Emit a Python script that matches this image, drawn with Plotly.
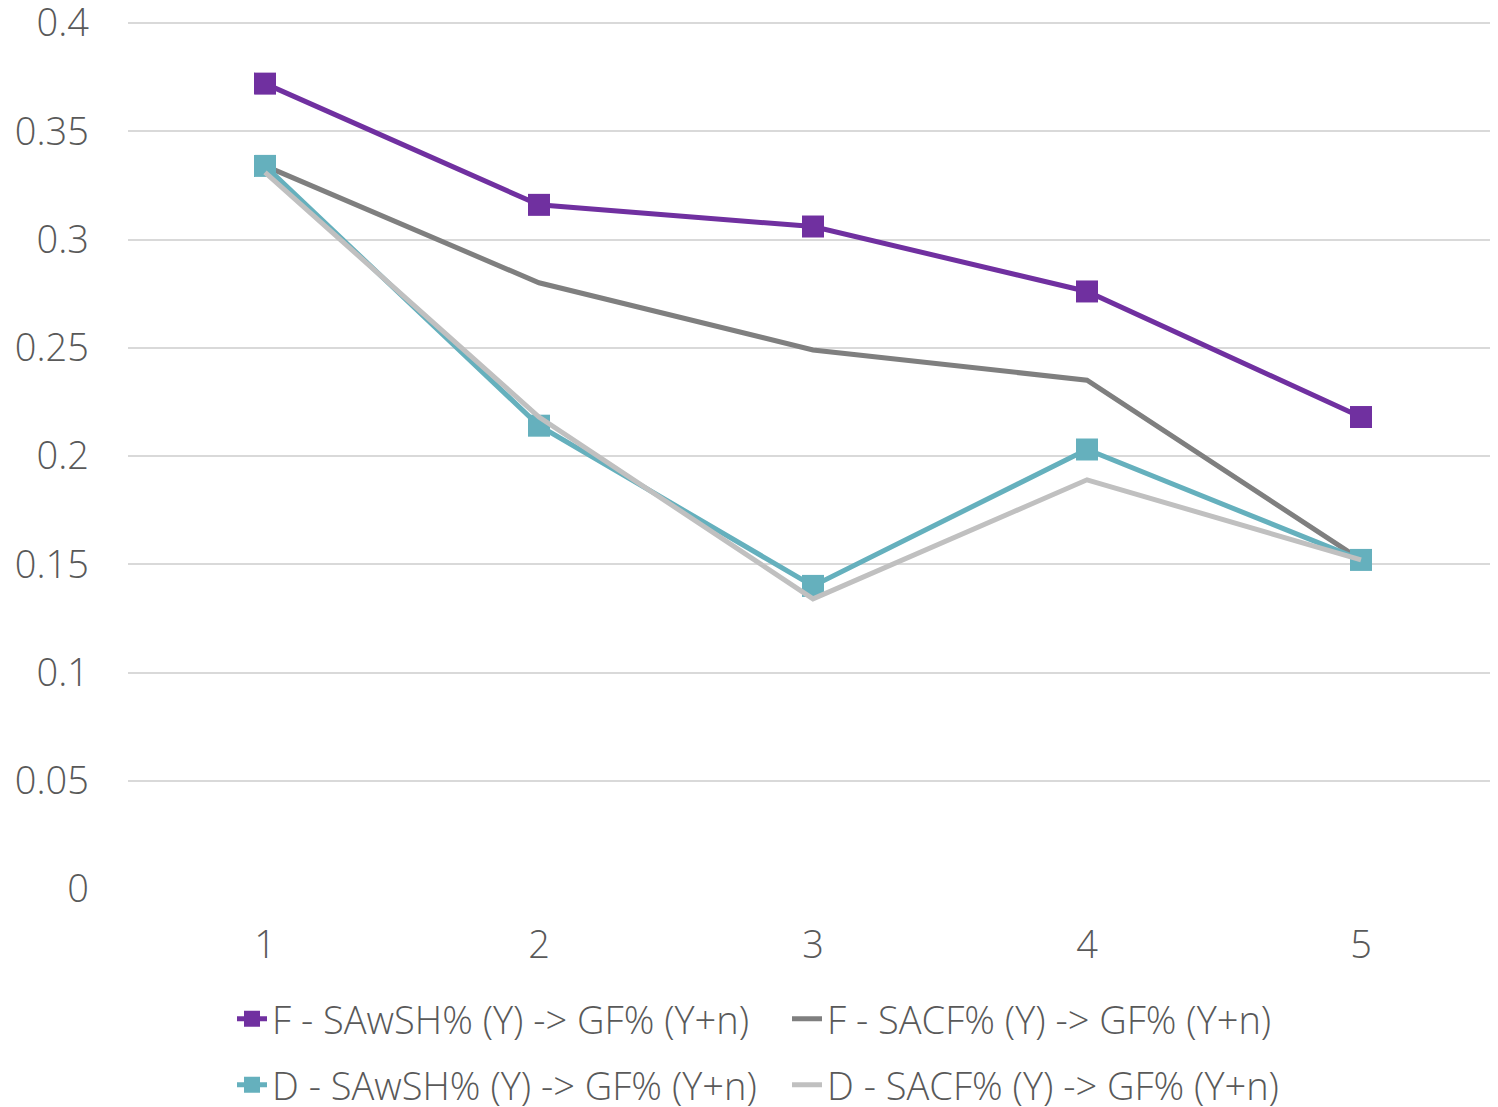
import plotly.graph_objects as go

categories = [1, 2, 3, 4, 5]
f_sawsh = [0.372, 0.316, 0.306, 0.276, 0.218]
f_sacf = [0.334, 0.280, 0.249, 0.235, 0.152]
d_sawsh = [0.334, 0.214, 0.140, 0.203, 0.152]
d_sacf = [0.331, 0.218, 0.134, 0.189, 0.152]
names = ["F - SAwSH% (Y) -> GF% (Y+n)", "F - SACF% (Y) -> GF% (Y+n)",
         "D - SAwSH% (Y) -> GF% (Y+n)", "D - SACF% (Y) -> GF% (Y+n)"]
y_ticks = [0, 0.05, 0.1, 0.15, 0.2, 0.25, 0.3, 0.35, 0.4]
y_tick_text = ["0", "0.05", "0.1", "0.15", "0.2", "0.25", "0.3", "0.35", "0.4"]

FONT = "Open Sans"
TXT = "#595959"

fig = go.Figure()
fig.add_trace(go.Scatter(x=categories, y=f_sawsh, name=names[0], mode="lines+markers",
                         line=dict(color="#7030A0", width=5),
                         marker=dict(symbol="square", size=22, color="#7030A0"),
                         legend="legend"))
fig.add_trace(go.Scatter(x=categories, y=f_sacf, name=names[1], mode="lines",
                         line=dict(color="#7F7F7F", width=5), legend="legend"))
fig.add_trace(go.Scatter(x=categories, y=d_sawsh, name=names[2], mode="lines+markers",
                         line=dict(color="#65B0BD", width=5),
                         marker=dict(symbol="square", size=22, color="#65B0BD"),
                         legend="legend2"))
fig.add_trace(go.Scatter(x=categories, y=d_sacf, name=names[3], mode="lines",
                         line=dict(color="#C0C0C0", width=5), legend="legend2"))

PLOT_H = 871
legend_common = dict(orientation="h", xanchor="left", yanchor="middle",
                     font=dict(family=FONT, size=38, color=TXT, weight=300),
                     entrywidth=510, entrywidthmode="pixels", bgcolor="rgba(0,0,0,0)",
                     itemclick=False)
lx = 104 / 1370
fig.update_layout(
    width=1490, height=1107,
    margin=dict(l=120, r=0, t=10, b=1107 - 10 - PLOT_H, autoexpand=False),
    paper_bgcolor="white", plot_bgcolor="white",
    font=dict(family=FONT, color=TXT, weight=300),
    xaxis=dict(range=[0.5, 5.5], tickmode="array", tickvals=categories,
               ticktext=[str(c) for c in categories], showgrid=False, zeroline=False,
               showline=False, ticks="", tickfont=dict(size=38, color=TXT),
               ticklabelstandoff=30, automargin=False, ticklabeloverflow="allow"),
    yaxis=dict(range=[0, 0.4 * PLOT_H / 866], tickmode="array", tickvals=y_ticks,
               ticktext=y_tick_text,
               showgrid=True, gridcolor="#D9D9D9", gridwidth=2, zeroline=False,
               showline=False, ticks="", tickfont=dict(size=38, color=TXT),
               ticklabelstandoff=38, automargin=False, ticklabeloverflow="allow"),
    legend=dict(**legend_common, x=lx, y=-(1011 - 881) / PLOT_H),
    legend2=dict(**legend_common, x=lx, y=-(1077 - 881) / PLOT_H),
)

fig.write_html("out.html")
